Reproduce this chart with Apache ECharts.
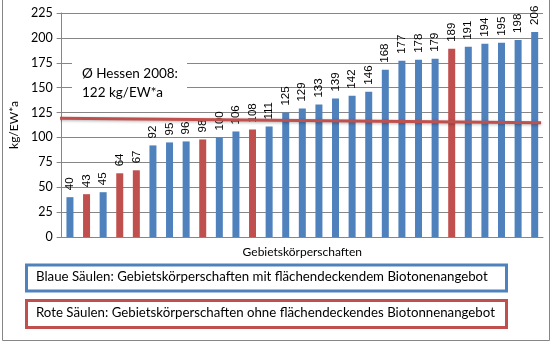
<!DOCTYPE html>
<html>
<head>
<meta charset="utf-8">
<script src="https://cdn.jsdelivr.net/npm/echarts@6/dist/echarts.min.js"></script>
<style>html,body{margin:0;padding:0;background:#fff}#c{width:553px;height:344px}</style>
</head>
<body>
<div id="c"></div>
<script>
// Data
const categories = ["1","2","3","4","5","6","7","8","9","10","11","12","13","14","15","16","17","18","19","20","21","22","23","24","25","26","27","28","29"];
const values = [40,43,45,64,67,92,95,96,98,100,106,108,111,125,129,133,139,142,146,168,177,178,179,189,191,194,195,198,206];
const groups = ["b","r","b","r","r","b","b","b","r","b","b","r","b","b","b","b","b","b","b","b","b","b","b","r","b","b","b","b","b"];
const avgLine = [119.2, 114.8];
const yTicks = [0,25,50,75,100,125,150,175,200,225];

const BLUE = '#4F81BD', RED = '#C0504D', GRAY = '#868686';
const chart = echarts.init(document.getElementById('c'));
const font = 'Lato, "Open Sans", sans-serif';

chart.setOption({
  animation: false,
  grid: {left: 57, top: 13, width: 486, height: 224, containLabel: false},
  xAxis: [{
    type: 'category', data: categories,
    name: 'Gebietskörperschaften', nameLocation: 'middle', nameGap: 9,
    nameTextStyle: {fontFamily: font, fontSize: 12, color: '#000'},
    axisLine: {lineStyle: {color: GRAY}}, axisTick: {show: false}, axisLabel: {show: false}
  }, {
    type: 'value', min: 0, max: 1, show: false
  }],
  yAxis: {
    type: 'value', min: yTicks[0], max: yTicks[yTicks.length-1], interval: 25,
    name: 'kg/EW*a', nameLocation: 'middle', nameGap: 38,
    nameTextStyle: {fontFamily: font, fontSize: 12, color: '#000'},
    axisLine: {show: true, lineStyle: {color: GRAY}},
    axisTick: {show: true, length: 5, lineStyle: {color: GRAY}},
    axisLabel: {fontFamily: font, fontSize: 12.5, color: '#000', margin: 9},
    splitLine: {lineStyle: {color: GRAY}}
  },
  series: [{
    type: 'bar', barWidth: 7,
    data: values.map((v, i) => ({value: v, itemStyle: {color: groups[i] === 'r' ? RED : BLUE}})),
    label: {show: true, position: 'top', rotate: 90, align: 'left', verticalAlign: 'middle', distance: 7,
      fontFamily: '"Liberation Sans", Arial, sans-serif', fontSize: 11.5, color: '#000'}
  }, {
    type: 'line', xAxisIndex: 1, symbol: 'none', z: 5,
    data: [[-0.004, avgLine[0]], [0.996, avgLine[1]]],
    lineStyle: {color: RED, width: 3, shadowColor: 'rgba(0,0,0,0.3)', shadowBlur: 3, shadowOffsetY: 1}
  }],
  graphic: [
    {type: 'rect', z: 100, shape: {x: 2.5, y: -2, width: 547, height: 342.5}, style: {fill: 'none', stroke: GRAY, lineWidth: 1}},
    {type: 'rect', z: 100, shape: {x: 72, y: 62, width: 115, height: 40}, style: {fill: '#fff'}},
    {type: 'text', z: 101, left: 82, top: 64, style: {text: 'Ø Hessen 2008:\n122 kg/EW*a', fontFamily: font, fontSize: 13.5, lineHeight: 19, fill: '#000'}},
    {type: 'rect', z: 100, shape: {x: 26.5, y: 265, width: 480, height: 26}, style: {fill: '#fff', stroke: BLUE, lineWidth: 3}},
    {type: 'text', z: 101, left: 36, top: 270, style: {text: 'Blaue Säulen: Gebietskörperschaften mit flächendeckendem Biotonenangebot', fontFamily: font, fontSize: 13.25, fill: '#000'}},
    {type: 'rect', z: 100, shape: {x: 26.5, y: 300.5, width: 480, height: 27}, style: {fill: '#fff', stroke: RED, lineWidth: 3}},
    {type: 'text', z: 101, left: 36, top: 306, style: {text: 'Rote Säulen: Gebietskörperschaften ohne flächendeckendes Biotonnenangebot', fontFamily: font, fontSize: 13.25, fill: '#000'}}
  ]
});
</script>
</body>
</html>
